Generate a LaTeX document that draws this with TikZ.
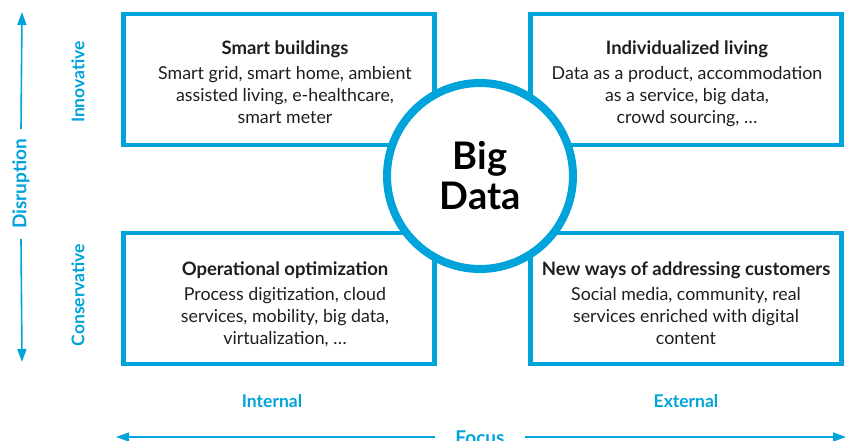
\documentclass[tikz,border=0pt]{standalone}
\usepackage{fontspec}
\setmainfont{Lato}
\usepackage{xcolor}
\usetikzlibrary{positioning, arrows.meta}

\definecolor{bdblue}{RGB}{0,163,218}
\definecolor{bdtext}{RGB}{30,30,30}

\begin{document}
\begin{tikzpicture}[x=1pt, y=-1pt,
        quad/.style={draw=bdblue, line width=4.5pt, minimum width=311pt, minimum height=131pt, inner sep=0pt},
        quadtext/.style={anchor=north, align=center, text=bdtext, font=\fontsize{17.8}{22}\selectfont},
        axis/.style={text=bdblue, font=\bfseries\fontsize{17.5}{20}\selectfont},
        axisname/.style={text=bdblue, font=\bfseries\fontsize{19}{22}\selectfont, inner sep=0pt},
        axisline/.style={draw=bdblue, line width=1.6pt, -{Triangle[length=13pt, width=9pt]}}]
  \useasboundingbox (0,0) rectangle (846,441);

  % the four quadrants
  \node[quad] (innint) at (279,79.5) {};
  \node[quad] (innext) at (686,79.5) {};
  \node[quad] (conint) at (279,298.5) {};
  \node[quad] (conext) at (686,298.5) {};

  \node[quadtext] (smart) at (285,37) {\textbf{\fontsize{18.5}{22}\selectfont Smart buildings}\\[3pt]
    Smart grid, smart home, ambient\\ assisted living, e-healthcare,\\ smart meter};
  \node[quadtext] (indiv) at (687,37) {\textbf{\fontsize{18.5}{22}\selectfont Individualized living}\\[3pt]
    Data as a product, accommodation\\ as a service, big data,\\ crowd sourcing, \dots};
  \node[quadtext] (optim) at (285,258) {\textbf{\fontsize{18.5}{22}\selectfont Operational optimization}\\[3pt]
    Process digitization, cloud\\ services, mobility, big data,\\ virtualization, \dots};
  \node[quadtext] (custom) at (686,258) {\textbf{\fontsize{18.5}{22}\selectfont New ways of addressing customers}\\[3pt]
    Social media, community, real\\ services enriched with digital\\ content};

  % centre
  \node[circle, draw=bdblue, line width=8pt, fill=white, minimum size=186pt, inner sep=0pt,
        align=center, font=\bfseries\fontsize{38}{40}\selectfont, text=black] (bigdata) at (480,176) {Big\\Data};

  % vertical axis
  \node[axis, rotate=90] (innov) at (78,82) {Innovative};
  \node[axis, rotate=90] (conserv) at (78,295) {Conservative};
  \node[axisname, rotate=90, inner xsep=10pt] (disrupt) at (21,184) {Disruption};
  \coordinate (dtop) at (22,12);
  \coordinate (dbot) at (22,362);
  \draw[axisline] (disrupt.east) -- (dtop);
  \draw[axisline] (disrupt.west) -- (dbot);

  % horizontal axis
  \node[axis] (intern) at (272,401) {Internal};
  \node[axis] (extern) at (686,401) {External};
  \node[axisname, inner xsep=20pt] (focus) at (480,438) {Focus};
  \coordinate (fleft) at (116,437);
  \coordinate (fright) at (846,437);
  \draw[axisline] (focus.west |- fleft) -- (fleft);
  \draw[axisline] (focus.east |- fright) -- (fright);
\end{tikzpicture}
\end{document}
